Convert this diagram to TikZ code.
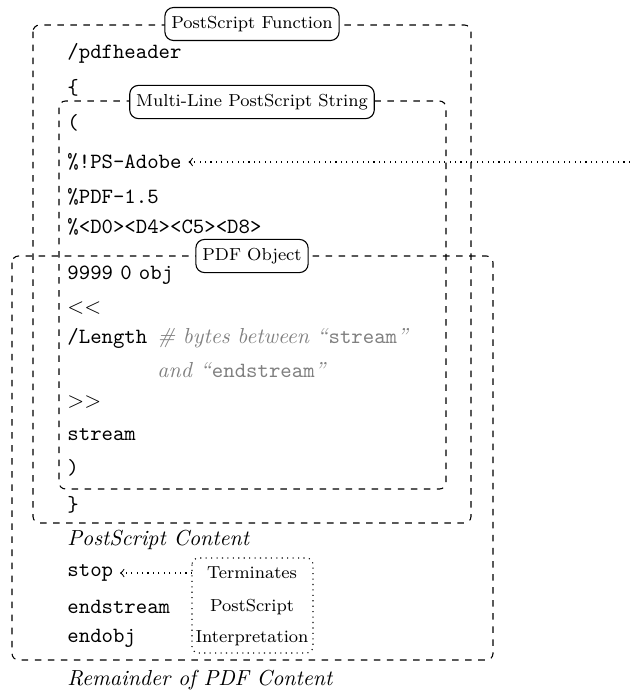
\documentclass[tikz,border=0pt]{standalone}
\usetikzlibrary{arrows}
\begin{document}
\begin{tikzpicture}[x=0.46pt,y=-0.46pt,
  grp/.style={draw,dashed,line width=0.5pt,rounded corners=3pt},
  grplabel/.style={draw,solid,line width=0.5pt,rounded corners=4pt,fill=white,font=\footnotesize,inner xsep=3pt,inner ysep=4pt},
  codeline/.style={anchor=west,inner sep=0pt},
  note/.style={font=\footnotesize,inner sep=0pt},
  ptr/.style={dotted,line width=0.5pt,-to}]
\useasboundingbox (0,0) rectangle (630,692);
% boxes
\draw[grp] (33,25) rectangle (471,523);
\draw[grp] (59,101) rectangle (446,489);
\draw[grp] (12,256) rectangle (493,660);
\node[grplabel] (lf) at (252,24) {PostScript Function};
\node[grplabel] (ls) at (252,102) {Multi-Line PostScript String};
\node[grplabel] (lo) at (252,256) {PDF Object};
% code lines
\node[codeline] (l1) at (67,53) {\texttt{/pdfheader}};
\node[codeline] (l2) at (67,88) {\texttt{\{}};
\node[codeline] (l3) at (67,123) {\texttt{(}};
\node[codeline] (l4) at (67,162) {\texttt{\%!PS-Adobe}};
\node[codeline] (l5) at (67,197) {\texttt{\%PDF-1.5}};
\node[codeline] (l6) at (67,227) {\texttt{\%<D0><D4><C5><D8>}};
\node[codeline] (l7) at (67,275) {\texttt{9999} \texttt{0} \texttt{obj}};
\node[codeline] (l8) at (67,308) {$<<$};
\node[codeline] (l9) at (67,338) {\texttt{/Length}};
\node[codeline,text=gray] (c1) at (157,338) {\textit{\# bytes between} \textit{``}\texttt{stream}\textit{''}};
\node[codeline,text=gray] (c2) at (157,370) {\textit{and} \textit{``}\texttt{endstream}\textit{''}};
\node[codeline] (l10) at (67,402) {$>>$};
\node[codeline] (l11) at (67,435) {\texttt{stream}};
\node[codeline] (l12) at (67,468) {\texttt{)}};
\node[codeline] (l13) at (67,505) {\texttt{\}}};
\node[codeline] (psc) at (67,540) {\textit{PostScript Content}};
\node[codeline] (l14) at (67,573) {\texttt{stop}};
\node[codeline] (l15) at (67,607) {\texttt{endstream}};
\node[codeline] (l16) at (67,638) {\texttt{endobj}};
\node[codeline] (rem) at (67,680) {\textit{Remainder of PDF Content}};
% terminates note
\draw[dotted,line width=0.5pt,rounded corners=3pt] (192,558) rectangle (313,653);
\node[note] (t1) at (252,573) {Terminates};
\node[note] (t2) at (252,607) {PostScript};
\node[note] (t3) at (252,638) {Interpretation};
\coordinate (tb) at (192,573);
\coordinate (rt) at (630,162);
\draw[ptr] (tb) -- ([xshift=3pt]l14.east);
\draw[ptr] (rt) -- ([xshift=3pt]l4.east);
\end{tikzpicture}
\end{document}
